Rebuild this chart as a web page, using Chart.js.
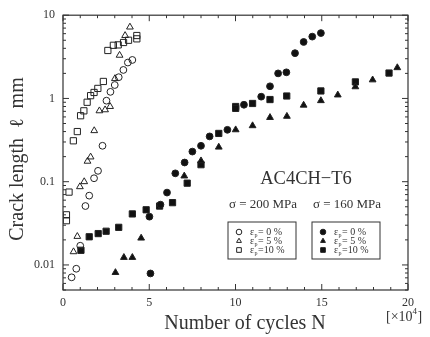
<!DOCTYPE html>
<html>
<head>
<meta charset="utf-8">
<script src="https://cdn.jsdelivr.net/npm/chart.js@4.4.1/dist/chart.umd.min.js"></script>
<style>
  html, body { margin: 0; padding: 0; background: #fff; }
</style>
</head>
<body>
<canvas id="c" width="430" height="337"></canvas>
<script>
// sigma = 200 MPa (open markers)
var S200_E0_X = [0.5, 0.77, 1.0, 1.3, 1.52, 1.8, 2.03, 2.29, 2.52, 2.75, 3.0, 3.23, 3.5, 3.76, 4.02];
var S200_E0_Y = [0.0071, 0.009, 0.017, 0.051, 0.068, 0.11, 0.135, 0.27, 0.94, 1.2, 1.45, 1.8, 2.2, 2.7, 2.9];
var S200_E5_X = [0.61, 0.83, 0.98, 1.23, 1.42, 1.6, 1.81, 2.11, 2.44, 2.73, 3.01, 3.28, 3.6, 3.88];
var S200_E5_Y = [0.0144, 0.022, 0.087, 0.1, 0.176, 0.198, 0.41, 0.71, 0.73, 0.8, 1.73, 3.3, 5.7, 7.2];
var S200_E10_X = [0.2, 0.2, 0.35, 0.6, 0.83, 1.02, 1.21, 1.4, 1.6, 1.8, 2.02, 2.34, 2.6, 2.92, 3.2, 3.51, 3.8, 4.28, 4.28];
var S200_E10_Y = [0.034, 0.04, 0.075, 0.31, 0.4, 0.62, 0.71, 0.9, 1.08, 1.18, 1.32, 1.6, 3.77, 4.35, 4.4, 4.7, 5.0, 5.7, 5.2];

// sigma = 160 MPa (filled markers)
var S160_E0_X = [5.07, 5.01, 5.65, 6.03, 6.51, 7.05, 7.5, 8.0, 8.5, 9.53, 10.49, 11.49, 12.0, 12.47, 12.95, 13.45, 13.95, 14.45, 14.95];
var S160_E0_Y = [0.0079, 0.038, 0.053, 0.074, 0.126, 0.17, 0.23, 0.27, 0.35, 0.42, 0.84, 1.05, 1.4, 2.0, 2.06, 3.5, 4.77, 5.53, 6.1];
var S160_E5_X = [3.04, 3.53, 4.02, 4.53, 7.03, 8.0, 9.03, 10.01, 10.99, 12.0, 12.98, 13.95, 14.95, 15.93, 16.95, 17.95, 19.38];
var S160_E5_Y = [0.0081, 0.0123, 0.0123, 0.021, 0.117, 0.178, 0.26, 0.42, 0.47, 0.59, 0.61, 0.83, 0.94, 1.1, 1.38, 1.67, 2.34];
var S160_E10_X = [1.04, 1.52, 2.04, 2.5, 3.23, 4.02, 4.82, 5.6, 6.35, 7.2, 8.0, 9.03, 10.01, 10.01, 10.99, 12.0, 12.97, 14.95, 16.95, 18.9];
var S160_E10_Y = [0.015, 0.0218, 0.0238, 0.0254, 0.0283, 0.041, 0.046, 0.051, 0.056, 0.096, 0.16, 0.38, 0.8, 0.76, 0.87, 0.97, 1.07, 1.23, 1.58, 2.02];

var X_TICKS = [0, 5, 10, 15, 20];
var Y_TICKS = [0.01, 0.1, 1, 10];
var LEGEND_LABELS = ["= 0 %", "= 5 %", "=10 %"];
var LEGEND_STYLES = ["circle", "triangle", "rect"];

var SERIF = "'Liberation Serif', 'DejaVu Serif', serif";
var INK = "#222";

function pts(xs, ys) {
  return xs.map(function (x, i) { return { x: x, y: ys[i] }; });
}

function ds(label, xs, ys, style, filled, r) {
  return {
    label: label,
    data: pts(xs, ys),
    pointStyle: style,
    pointRadius: r,
    pointBorderWidth: 1,
    pointBorderColor: INK,
    pointBackgroundColor: filled ? "#111" : "rgba(255,255,255,0)"
  };
}

// inward tick marks, frame and annotations
var framePlugin = {
  id: "frame",
  afterDraw: function (chart) {
    var c = chart.ctx, a = chart.chartArea;
    var xs = chart.scales.x, ys = chart.scales.y;
    c.save();
    c.strokeStyle = "#333";
    c.lineWidth = 1.2;
    c.strokeRect(a.left, a.top, a.right - a.left, a.bottom - a.top);

    c.lineWidth = 1;
    for (var v = 0; v <= 20; v++) {
      var px = xs.getPixelForValue(v);
      var len = (v % 5 === 0) ? 6 : 3;
      c.beginPath();
      c.moveTo(px, a.bottom); c.lineTo(px, a.bottom - len);
      c.moveTo(px, a.top); c.lineTo(px, a.top + len);
      c.stroke();
    }
    for (var d = -3; d <= 1; d++) {
      for (var k = 1; k <= 9; k++) {
        var val = k * Math.pow(10, d);
        if (val < 0.005 - 1e-9 || val > 10 + 1e-9) continue;
        var py = ys.getPixelForValue(val);
        var l2 = (k === 1) ? 6 : 3;
        c.beginPath();
        c.moveTo(a.left, py); c.lineTo(a.left + l2, py);
        c.moveTo(a.right, py); c.lineTo(a.right - l2, py);
        c.stroke();
      }
    }

    // axis titles
    c.fillStyle = "#333";
    c.font = "20px " + SERIF;
    c.textAlign = "center";
    c.textBaseline = "middle";
    c.fillText("Number of cycles N", 245, 324);
    c.save();
    c.translate(18, 159);
    c.rotate(-Math.PI / 2);
    c.fillText("Crack length  \u2113  mm", 0, 0);
    c.restore();

    c.font = "14px " + SERIF;
    c.textAlign = "left";
    c.fillText("[\u00d710", 386, 317);
    var w = c.measureText("[\u00d710").width;
    c.font = "9px " + SERIF;
    c.fillText("4", 386 + w, 312);
    c.font = "14px " + SERIF;
    c.fillText("]", 386 + w + 5, 317);

    // annotations
    c.textAlign = "center";
    c.font = "18.5px " + SERIF;
    c.fillText("AC4CH\u2212T6", 306, 179);
    c.font = "13px " + SERIF;
    c.fillText("\u03c3 = 200 MPa", 263, 205);
    c.fillText("\u03c3 = 160 MPa", 347, 205);

    // legend boxes
    var boxes = [{ x: 228, filled: false }, { x: 312, filled: true }];
    boxes.forEach(function (b) {
      c.strokeStyle = "#333";
      c.lineWidth = 1;
      c.strokeRect(b.x, 222, 68, 37);
      for (var i = 0; i < 3; i++) {
        var yy = 232 + i * 9;
        c.fillStyle = b.filled ? "#111" : "#fff";
        c.strokeStyle = INK;
        Chart.helpers.drawPoint(c, { pointStyle: LEGEND_STYLES[i], radius: i === 2 ? 3.3 : 2.8, borderWidth: 1, rotation: 0 }, b.x + 11, yy);
        c.fillStyle = "#333";
        c.textAlign = "left";
        c.font = "10px " + SERIF;
        c.fillText("\u03b5", b.x + 22, yy);
        c.font = "6px " + SERIF;
        c.fillText("p", b.x + 26.5, yy + 3);
        c.font = "10px " + SERIF;
        c.fillText(LEGEND_LABELS[i], b.x + 30, yy);
      }
    });
    c.restore();
  }
};

new Chart(document.getElementById("c"), {
  type: "scatter",
  data: {
    datasets: [
      ds("200 MPa, 0 %", S200_E0_X, S200_E0_Y, "circle", false, 3.4),
      ds("200 MPa, 5 %", S200_E5_X, S200_E5_Y, "triangle", false, 3.9),
      ds("200 MPa, 10 %", S200_E10_X, S200_E10_Y, "rect", false, 4.4),
      ds("160 MPa, 0 %", S160_E0_X, S160_E0_Y, "circle", true, 3.4),
      ds("160 MPa, 5 %", S160_E5_X, S160_E5_Y, "triangle", true, 3.9),
      ds("160 MPa, 10 %", S160_E10_X, S160_E10_Y, "rect", true, 4.4)
    ]
  },
  options: {
    responsive: false,
    animation: false,
    devicePixelRatio: 1,
    layout: { padding: { left: 0, right: 22, top: 14, bottom: 0 } },
    plugins: { legend: { display: false }, tooltip: { enabled: false } },
    scales: {
      x: {
        type: "linear", min: 0, max: 20,
        afterBuildTicks: function (s) { s.ticks = X_TICKS.map(function (v) { return { value: v }; }); },
        afterFit: function (s) { s.height = 47; },
        grid: { display: false, drawTicks: false },
        border: { display: false },
        ticks: { color: "#333", font: { family: SERIF, size: 12 }, padding: 6, maxRotation: 0 }
      },
      y: {
        type: "logarithmic", min: 0.005, max: 10,
        afterBuildTicks: function (s) { s.ticks = Y_TICKS.map(function (v) { return { value: v }; }); },
        afterFit: function (s) { s.width = 63; },
        grid: { display: false, drawTicks: false },
        border: { display: false },
        ticks: {
          color: "#333", font: { family: SERIF, size: 12 }, padding: 8,
          callback: function (v) { return String(v); }
        }
      }
    }
  },
  plugins: [framePlugin]
});
</script>
</body>
</html>
